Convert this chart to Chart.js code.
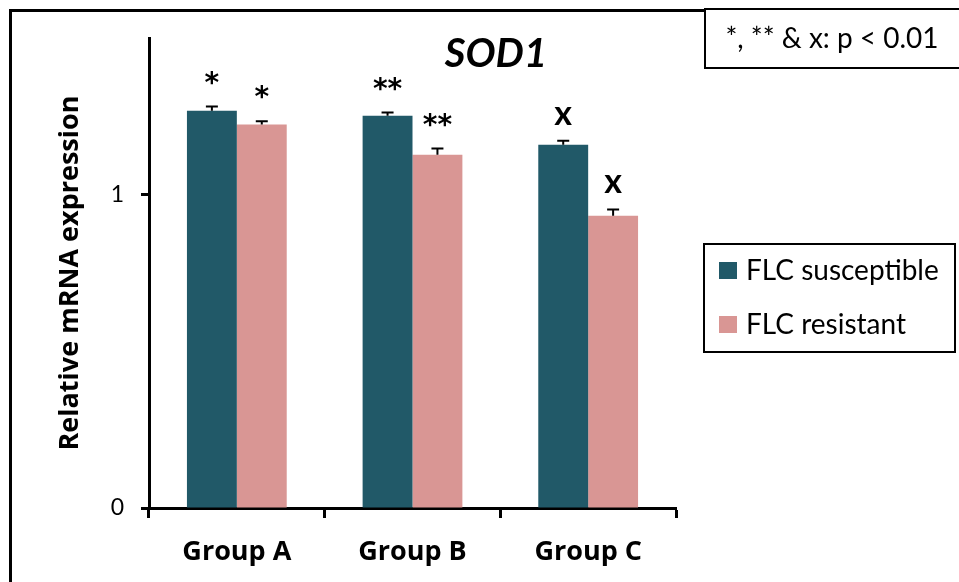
<!DOCTYPE html>
<html>
<head>
<meta charset="utf-8">
<script src="https://cdn.jsdelivr.net/npm/chart.js@4.4.1/dist/chart.umd.min.js"></script>
<style>
  html, body { margin: 0; padding: 0; background: #ffffff; }
  #wrap { width: 959px; height: 582px; }
</style>
</head>
<body>
<div id="wrap"><canvas id="chart" width="959" height="582"></canvas></div>
<script>
// SOD1 relative expression by group
const categories = ['Group A', 'Group B', 'Group C'];
const seriesNames = ['FLC susceptible', 'FLC resistant'];
const susceptible = [1.268, 1.252, 1.159];
const resistant = [1.224, 1.127, 0.933];
const susceptibleErr = [0.013, 0.010, 0.013];
const resistantErr = [0.010, 0.020, 0.020];
const susceptibleMarks = ['*', '**', 'x'];
const resistantMarks = ['*', '**', 'x'];
const yTicks = [0, 1];
const chartTitle = 'SOD1';
const yTitle = 'Relative mRNA expression';
const noteText = '*, ** & x: p < 0.01';

const colors = ['#215968', '#d99694'];
const FONT = 'Lato, "Open Sans", sans-serif';
const BOLD_FONT = '"Open Sans", Lato, sans-serif';
const MARK_FONT = '"DejaVu Sans", sans-serif';

// white page, outer frame, upper error bars and significance marks
const decorations = {
  id: 'decorations',
  beforeDraw(chart) {
    const ctx = chart.ctx;
    ctx.save();
    ctx.fillStyle = '#ffffff';
    ctx.fillRect(0, 0, chart.width, chart.height);
    ctx.strokeStyle = '#000000';
    ctx.lineWidth = 3;
    ctx.strokeRect(10.5, 10.5, 1000, 1000);
    ctx.restore();
  },
  afterDatasetsDraw(chart) {
    const ctx = chart.ctx;
    const y = chart.scales.y;
    const errs = [susceptibleErr, resistantErr];
    const vals = [susceptible, resistant];
    const marks = [susceptibleMarks, resistantMarks];
    ctx.save();
    chart.data.datasets.forEach((ds, di) => {
      const meta = chart.getDatasetMeta(di);
      meta.data.forEach((bar, i) => {
        const top = y.getPixelForValue(vals[di][i]);
        const cap = y.getPixelForValue(vals[di][i] + errs[di][i]);
        ctx.strokeStyle = '#000000';
        ctx.lineWidth = 2;
        ctx.beginPath();
        ctx.moveTo(bar.x, top);
        ctx.lineTo(bar.x, cap);
        ctx.moveTo(bar.x - 6, cap);
        ctx.lineTo(bar.x + 6, cap);
        ctx.stroke();

        const m = marks[di][i];
        ctx.fillStyle = '#000000';
        ctx.textAlign = 'center';
        ctx.textBaseline = 'alphabetic';
        ctx.font = m === 'x' ? 'bold 34px ' + FONT : 'bold 28px ' + MARK_FONT;
        const tm = ctx.measureText(m);
        const center = cap - (m === 'x' ? 25 : 29);
        const base = center + (tm.actualBoundingBoxAscent - tm.actualBoundingBoxDescent) / 2;
        ctx.fillText(m, bar.x, base);
      });
    });
    ctx.restore();
  },
  afterDraw(chart) {
    const ctx = chart.ctx;
    ctx.save();
    // title
    ctx.fillStyle = '#000000';
    ctx.font = 'italic bold 40px ' + FONT;
    ctx.textAlign = 'center';
    ctx.textBaseline = 'middle';
    ctx.fillText(chartTitle, 496, 54);

    // significance note box
    ctx.fillStyle = '#ffffff';
    ctx.fillRect(705, 9, 300, 59);
    ctx.strokeStyle = '#000000';
    ctx.lineWidth = 2;
    ctx.strokeRect(705, 9, 300, 59);
    ctx.fillStyle = '#000000';
    ctx.font = '28px ' + FONT;
    ctx.textAlign = 'center';
    ctx.fillText(noteText, 832, 39);

    // legend
    ctx.fillStyle = '#ffffff';
    ctx.fillRect(704, 244, 251, 108);
    ctx.strokeStyle = '#000000';
    ctx.lineWidth = 2;
    ctx.strokeRect(704, 244, 251, 108);
    ctx.font = '28px ' + FONT;
    ctx.textAlign = 'left';
    seriesNames.forEach((name, i) => {
      const cy = 270 + i * 54;
      ctx.fillStyle = colors[i];
      ctx.fillRect(719, cy - 8, 18, 17);
      ctx.fillStyle = '#000000';
      ctx.fillText(name, 746, cy + 1);
    });
    ctx.restore();
  }
};

new Chart(document.getElementById('chart'), {
  type: 'bar',
  data: {
    labels: categories,
    datasets: [
      { label: seriesNames[0], data: susceptible, backgroundColor: colors[0] },
      { label: seriesNames[1], data: resistant, backgroundColor: colors[1] }
    ]
  },
  options: {
    responsive: false,
    animation: false,
    devicePixelRatio: 1,
    layout: { padding: { left: 45, right: 283, top: 38, bottom: 0 } },
    categoryPercentage: 0.568,
    barPercentage: 1.0,
    plugins: {
      legend: { display: false },
      tooltip: { enabled: false },
      title: { display: false }
    },
    scales: {
      x: {
        grid: { display: true, drawOnChartArea: false, offset: true, tickLength: 10, tickWidth: 3, tickColor: '#000000' },
        border: { display: true, color: '#000000', width: 3 },
        ticks: { color: '#000000', padding: 18, font: { family: BOLD_FONT, size: 27, weight: 'bold' } },
        afterFit(scale) { scale.height = 74; }
      },
      y: {
        min: 0,
        max: 1.5,
        afterBuildTicks(scale) { scale.ticks = yTicks.map(v => ({ value: v })); },
        grid: { display: true, drawOnChartArea: false, tickLength: 8, tickWidth: 3, tickColor: '#000000' },
        border: { display: true, color: '#000000', width: 3 },
        ticks: { color: '#000000', padding: 17, font: { family: FONT, size: 23 } },
        title: {
          display: true,
          text: yTitle,
          color: '#000000',
          padding: { top: 9, bottom: 0 },
          font: { family: BOLD_FONT, size: 27, weight: 'bold' }
        },
        afterFit(scale) { scale.width = 104; }
      }
    }
  },
  plugins: [decorations]
});
</script>
</body>
</html>
